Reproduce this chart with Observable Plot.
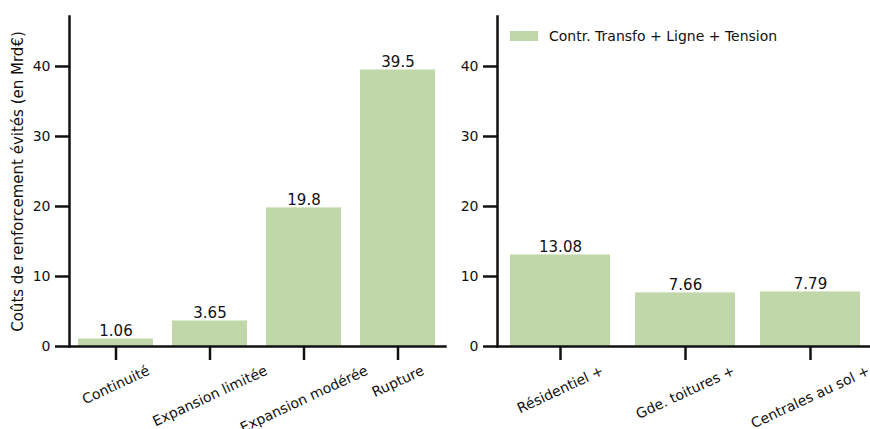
<!DOCTYPE html>
<html><head><meta charset="utf-8">
<script src="https://cdn.jsdelivr.net/npm/d3@7"></script>
<script src="https://cdn.jsdelivr.net/npm/@observablehq/plot@0.6"></script>
<style>
body{margin:0;background:#fff;}
#wrap{position:relative;width:870px;height:429px;overflow:hidden;font-family:"DejaVu Sans",sans-serif;background:#fff;}
#left,#right{position:absolute;top:0;}
#left{left:0;width:450px}
#right{left:450px;width:425px}
#wrap svg{max-width:none !important;}
#legend{position:absolute;left:510px;top:28px;display:flex;align-items:center;font-size:14px;color:#111;}
#legend .sw{width:28px;height:10px;margin-right:11px;}
</style></head><body>
<div id="wrap"><div id="left"></div><div id="right"></div><div id="legend"><span class="sw"></span><span class="lt"></span></div></div>
<script>
const scenarios = ["Continuité", "Expansion limitée", "Expansion modérée", "Rupture"];
const scenarioValues = [1.06, 3.65, 19.8, 39.5];
const scenarioLabels = ["1.06", "3.65", "19.8", "39.5"];
const segments = ["Résidentiel +", "Gde. toitures +", "Centrales au sol +"];
const segmentValues = [13.08, 7.66, 7.79];
const segmentLabels = ["13.08", "7.66", "7.79"];
const yTicks = [0, 10, 20, 30, 40];
const yMax = 47.14;
const legendLabel = "Contr. Transfo + Ligne + Tension";
const yLabel = "Coûts de renforcement évités (en Mrd€)";
const barColor = "#c0d8a9";
const ink = "#111";
const xLabelSize = 14;
const xLabelDy = 40;
const xLabelAngle = 25;

function panel({cats, vals, labels, width, marginLeft, marginRight, withYLabel}) {
  const data = cats.map((c, i) => ({c, v: vals[i], l: labels[i]}));
  const marks = [
    Plot.barY(data, {x: "c", y: "v", fill: barColor}),
    Plot.text(data, {x: "c", y: "v", text: "l", dy: -3, lineAnchor: "bottom", fontSize: 15, fill: ink}),
    Plot.axisY({ticks: yTicks, tickSize: 14, strokeWidth: 2.5, tickPadding: 5, fontSize: 14, label: null, stroke: ink, fill: ink}),
    Plot.axisX({tickSize: 14, strokeWidth: 2.5, tickFormat: () => "", label: null, stroke: ink}),
    Plot.text(cats, {x: d => d, frameAnchor: "bottom", dy: xLabelDy, rotate: -xLabelAngle, textAnchor: "middle", lineAnchor: "middle", fontSize: xLabelSize, fill: ink}),
    Plot.frame({anchor: "left", stroke: ink, strokeWidth: 2.5}),
    Plot.frame({anchor: "bottom", stroke: ink, strokeWidth: 2.5})
  ];
  if (withYLabel) marks.push(Plot.text([yLabel], {frameAnchor: "left", dx: -51, rotate: -90, textAnchor: "middle", lineAnchor: "middle", fontSize: 15, fill: ink}));
  return Plot.plot({
    width, height: 429,
    marginLeft, marginRight, marginTop: 16, marginBottom: 83,
    style: {fontFamily: "DejaVu Sans", fontSize: "14px", color: ink, background: "transparent", maxWidth: "none"},
    x: {domain: cats, paddingInner: 0.2, paddingOuter: 0.1},
    y: {domain: [0, yMax]},
    marks
  });
}

const left = panel({cats: scenarios, vals: scenarioValues, labels: scenarioLabels, width: 450, marginLeft: 69, marginRight: 5, withYLabel: true});
const right = panel({cats: segments, vals: segmentValues, labels: segmentLabels, width: 425, marginLeft: 47, marginRight: 3, withYLabel: false});
document.getElementById("left").appendChild(left);
document.getElementById("right").appendChild(right);
document.querySelector("#legend .sw").style.background = barColor;
document.querySelector("#legend .lt").textContent = legendLabel;

// matplotlib-style placement: rotated label's bounding box top sits just below the tick
const rad = xLabelAngle * Math.PI / 180;
const sinA = Math.sin(rad), cosA = Math.cos(rad);
const lineH = xLabelSize * 1.164;
const currentCenter = 429 - 83 + xLabelDy;
const ctx = document.createElement("canvas").getContext("2d");
ctx.font = `${xLabelSize}px "DejaVu Sans"`;
for (const [svg, cats] of [[left, scenarios], [right, segments]]) {
  const names = new Set(cats);
  svg.querySelectorAll("text").forEach(t => {
    if (!names.has(t.textContent)) return;
    const w = ctx.measureText(t.textContent).width;
    const desired = 362 + (w * sinA + lineH * cosA) / 2;
    const shift = desired - currentCenter;
    t.setAttribute("transform", `translate(0,${shift}) ` + (t.getAttribute("transform") || ""));
  });
}
</script>
</body></html>
